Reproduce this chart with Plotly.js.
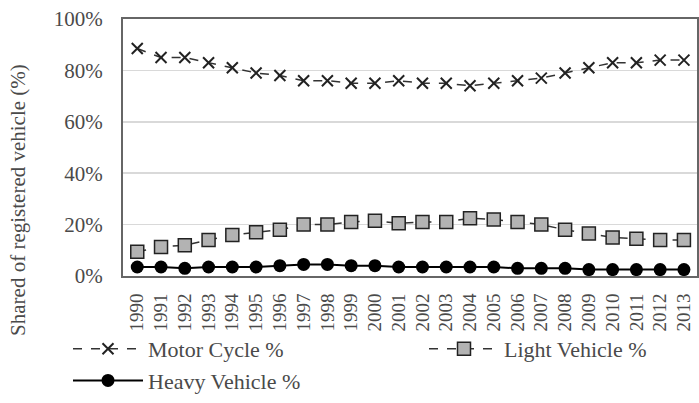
<!DOCTYPE html>
<html><head><meta charset="utf-8">
<script src="https://cdn.plot.ly/plotly-3.0.1.min.js"></script>
<style>body{margin:0;background:#fff}#c{width:699px;height:403px}</style>
</head><body><div id="c"></div>
<script>
const years = ["1990","1991","1992","1993","1994","1995","1996","1997","1998","1999","2000","2001","2002","2003","2004","2005","2006","2007","2008","2009","2010","2011","2012","2013"];
const motorCycle = [88.5,85,85,83,81,79,78,76,76,75,75,76,75,75,74,75,76,77,79,81,83,83,84,84];
const lightVehicle = [9.4,11.3,12,14,16,17,18,20,20,21,21.5,20.5,21,21,22.5,22,21,20,18,16.5,15,14.5,14,14];
const heavyVehicle = [3.5,3.5,3,3.5,3.5,3.5,4,4.5,4.5,4,4,3.5,3.5,3.5,3.5,3.5,3,3,3,2.5,2.5,2.5,2.5,2.5];
const seriesNames = ["Motor Cycle %","Light Vehicle %","Heavy Vehicle %"];
const yTitle = "Shared of registered vehicle (%)";

const font = "Liberation Serif";
const txt = "#4a4a4a";
const traces = [
  {x: years, y: motorCycle, name: seriesNames[0], mode: "lines+markers", legend: "legend", legendgroup: "a",
   line: {color: "#333", width: 1.5, dash: "dash"},
   marker: {symbol: "x-thin", size: 11, line: {color: "#222", width: 2}}},
  {x: years, y: lightVehicle, name: seriesNames[1], mode: "lines+markers", legend: "legend2",
   line: {color: "#333", width: 1.5, dash: "dash"},
   marker: {symbol: "square", size: 13, color: "#b3b3b3", line: {color: "#222", width: 1.5}}},
  {x: years, y: heavyVehicle, name: seriesNames[2], mode: "lines+markers", legend: "legend", legendgroup: "b",
   line: {color: "#000", width: 2},
   marker: {symbol: "circle", size: 13, color: "#000"}}
];
const legBase = {xref: "container", yref: "container", xanchor: "left", yanchor: "top",
  font: {size: 22, family: font, color: txt},
  itemwidth: 70, bgcolor: "rgba(0,0,0,0)", borderwidth: 0, tracegroupgap: 0};
const layout = {
  width: 699, height: 403,
  margin: {l: 123, r: 2, t: 19, b: 127, autoexpand: false},
  paper_bgcolor: "#fff", plot_bgcolor: "#fff",
  font: {family: font, color: txt, size: 21},
  showlegend: true,
  xaxis: {type: "category", range: [-0.6, 23.55], tickangle: -90, tickmode: "linear", dtick: 1,
    tickfont: {size: 19, family: font, color: txt}, ticklabelstandoff: 8,
    showgrid: false, showline: true, mirror: true, linecolor: "#666", linewidth: 2,
    ticks: "", fixedrange: true},
  yaxis: {range: [0, 100], dtick: 20, ticksuffix: "%",
    tickfont: {size: 21, family: font, color: txt}, ticklabelstandoff: 14,
    gridcolor: "#d9d9d9", gridwidth: 1.5,
    showline: true, mirror: true, linecolor: "#666", linewidth: 2,
    zeroline: false, ticks: ""},
  annotations: [{text: yTitle, xref: "paper", yref: "paper", x: -0.183, y: 0.296,
    xanchor: "center", yanchor: "middle", textangle: -90, showarrow: false,
    font: {size: 21, family: font, color: txt}}],
  legend: Object.assign({}, legBase, {x: 68/699, y: 1 - 328/403}),
  legend2: Object.assign({}, legBase, {x: 424/699, y: 1 - 328/403})
};
Plotly.newPlot("c", traces, layout, {staticPlot: true});
</script></body></html>
